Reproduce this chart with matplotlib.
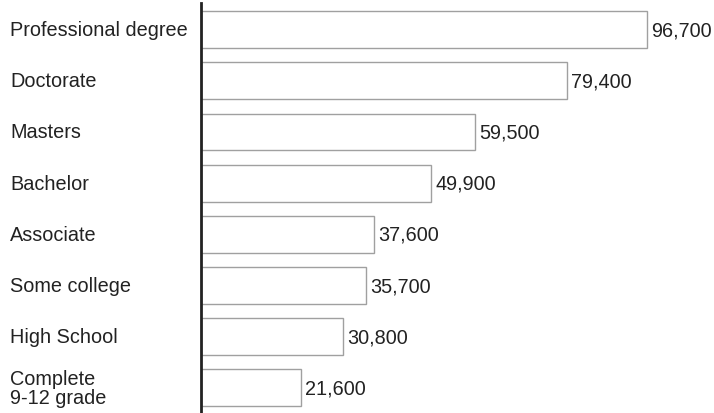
import matplotlib
matplotlib.use('Agg')
import matplotlib.pyplot as plt
from matplotlib.transforms import blended_transform_factory

# Income by education level
categories = ['Professional degree', 'Doctorate', 'Masters', 'Bachelor',
              'Associate', 'Some college', 'High School', 'Complete\n9-12 grade']
values = [96700, 79400, 59500, 49900, 37600, 35700, 30800, 21600]

plt.rcParams['font.family'] = ['Liberation Sans', 'DejaVu Sans']

fig = plt.figure(figsize=(7.14, 4.14), dpi=100)
ax = fig.add_axes([201 / 714, 0, 513 / 714, 410 / 414])

ypos = list(range(len(categories)))
ax.barh(ypos, values, height=0.72, color='white', edgecolor='#a0a0a0', linewidth=1.0)

for y, v in zip(ypos, values):
    ax.text(v + 900, y, f'{v:,}', va='center', ha='left', fontsize=14.3, color='#222222')

trans = blended_transform_factory(fig.transFigure, ax.transData)
for y, c in zip(ypos, categories):
    ax.text(10 / 714, y, c, transform=trans, va='center', ha='left',
            fontsize=14.3, color='#222222', linespacing=1.0)

ax.set_xlim(0, 111230)
ax.set_ylim(7.49, -0.52)
ax.set_xticks([])
ax.set_yticks([])
for s in ['top', 'right', 'bottom']:
    ax.spines[s].set_visible(False)
ax.spines['left'].set_linewidth(2)
ax.spines['left'].set_color('#222222')

fig.savefig('out.png', dpi=100)
